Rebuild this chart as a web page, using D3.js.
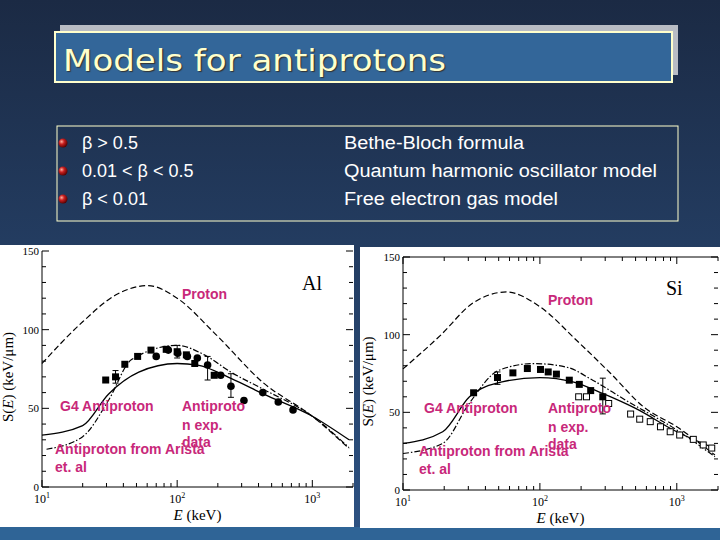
<!DOCTYPE html>
<html><head><meta charset="utf-8">
<script src="https://cdn.jsdelivr.net/npm/d3@7"></script>
<style>body{margin:0;}svg{display:block}</style>
</head><body>
<svg id="s" width="720" height="540"></svg>
<script>
// ---- data ----
const bulletsLeft = ["β > 0.5", "0.01 < β < 0.5", "β < 0.01"];
const bulletsRight = ["Bethe-Bloch formula", "Quantum harmonic oscillator model", "Free electron gas model"];
const xTickLabels = ["10", "10", "10"], xTickExp = ["1","2","3"], xTickVals = [10,100,1000];
const yTickVals = [0,50,100,150];

const alProton = [[10,78.5],[20,105],[35,122],[61,128],[100,120],[188,98],[437,66],[1000,45],[1870,24.4]];
const alG4 = [[10,33],[20,39],[31,59],[52,73],[100,78.5],[142,77.5],[250,69],[437,59],[1000,45],[1870,30]];
const alArista = [[10.8,24],[20,32],[31,55],[46,81],[100,90],[159,84],[250,73],[437,62],[1000,45],[1870,25]];
const alSquares = [[29.6,68],[35,70],[41,78],[51,83],[64,87],[83,87.5],[100,86],[117,84],[135,78.5],[188,71]];
const alCircles = [[70,83],[86,87],[101,85],[119,83],[141,82],[168,77.5],[210,71],[250,64],[312,55],[430,60],[560,54],[720,49]];
const alErr = [[35,66,74],[100,82,90],[168,68,83],[250,57,72]];

const siProton = [[10,78],[19,100],[32,120],[57,127.5],[100,118],[185,96.4],[329,75],[570,53.6],[1000,40.7],[1900,22.5]];
const siG4 = [[10,30],[19.5,37.5],[30.6,60],[53,69.6],[100,72.4],[174,69.6],[290,62],[500,52.5],[1000,37.5],[1900,26.8]];
const siArista = [[10,23.5],[19.5,30],[30.6,56],[50,77],[90,81.4],[158,79],[243,70.7],[420,58],[1000,38.6],[1900,21.4]];
const siSquares = [[32.8,62.6],[49,72.4],[63.5,75.4],[81,78.2],[101,77.6],[115,76],[132,74.6],[164,70.7],[194,68],[235,64],[288,60]];
const siOpen = [[192,60],[219,60],[318,55.7],[460,48.9],[536,45.6],[640,44],[760,40.7],[895,37.5],[1050,35.4],[1320,32.6],[1560,29],[1800,27]];
const siErr = [[49,68,76],[288,49,72]];

const svg = d3.select("#s");
const defs = svg.append("defs");
const g = defs.append("linearGradient").attr("id","bg").attr("x1",0).attr("x2",0).attr("y1",0).attr("y2",1);
g.append("stop").attr("offset","0").attr("stop-color","#1b2a44");
g.append("stop").attr("offset","1").attr("stop-color","#2d5283");
const rg = defs.append("radialGradient").attr("id","ball").attr("cx","0.35").attr("cy","0.35").attr("r","0.7");
rg.append("stop").attr("offset","0").attr("stop-color","#ffb0a0");
rg.append("stop").attr("offset","0.4").attr("stop-color","#cc2020");
rg.append("stop").attr("offset","1").attr("stop-color","#500000");

svg.append("rect").attr("width",720).attr("height",540).attr("fill","url(#bg)");
svg.append("rect").attr("x",0).attr("y",527).attr("width",720).attr("height",13).attr("fill","#2f6496");

// title
svg.append("rect").attr("x",60).attr("y",25).attr("width",618).attr("height",50).attr("fill","#b8bcc4");
svg.append("rect").attr("x",55).attr("y",32).attr("width",617).attr("height",50).attr("fill","#336699").attr("stroke","#ffffcc").attr("stroke-width",2);
svg.append("text").attr("x",63).attr("y",71).text("Models for antiprotons")
  .attr("font-family","DejaVu Sans").attr("font-size",31).attr("fill","#ffffcc")
  .attr("textLength",383).attr("lengthAdjust","spacingAndGlyphs")
  .attr("style","text-shadow:1px 1px 1px #333");

// bullet box
svg.append("rect").attr("x",57).attr("y",126).attr("width",621).attr("height",95).attr("fill","none").attr("stroke","#ffffcc").attr("stroke-width",1);
const rightLen = [180, 313, 214];
bulletsLeft.forEach((t,i)=>{
  const y = 143+i*28;
  svg.append("circle").attr("cx",63).attr("cy",y).attr("r",4.5).attr("fill","url(#ball)");
  svg.append("text").attr("x",82).attr("y",y+6).text(t).attr("font-family","Liberation Sans").attr("font-size",18).attr("fill","#fff");
  svg.append("text").attr("x",344).attr("y",y+6).text(bulletsRight[i]).attr("font-family","Liberation Sans").attr("font-size",18).attr("fill","#fff")
    .attr("textLength",rightLen[i]).attr("lengthAdjust","spacingAndGlyphs");
});

function panel(o){
  const p = svg.append("g");
  p.append("rect").attr("x",o.bx).attr("y",o.by).attr("width",o.bw).attr("height",o.bh).attr("fill","#fff");
  const x = d3.scaleLog().domain([10,2000]).range([o.x0,o.x1]);
  const y = d3.scaleLinear().domain([0,150]).range([o.y0,o.y1]);
  const serif = "Liberation Serif";
  p.append("line").attr("x1",o.x0).attr("x2",o.x1).attr("y1",o.y0).attr("y2",o.y0).attr("stroke","#000");
  p.append("line").attr("x1",o.x0).attr("x2",o.x0).attr("y1",o.y0).attr("y2",o.y1).attr("stroke","#000");
  if(o.top) p.append("line").attr("x1",o.x0).attr("x2",o.x1).attr("y1",o.y1).attr("y2",o.y1).attr("stroke","#000");
  d3.range(0,151,10).forEach(v=>{
    const L = v%50===0?7:4;
    p.append("line").attr("x1",o.x0).attr("x2",o.x0+L).attr("y1",y(v)).attr("y2",y(v)).attr("stroke","#000");
    p.append("line").attr("x1",o.x1).attr("x2",o.x1-L).attr("y1",y(v)).attr("y2",y(v)).attr("stroke","#000");
  });
  yTickVals.forEach(v=>p.append("text").attr("x",o.x0-3).attr("y",y(v)+4).attr("text-anchor","end").text(v)
    .attr("font-family",serif).attr("font-size",11).attr("fill","#000"));
  [10,100,1000].forEach(dec=>{for(let k=1;k<10;k++){const v=dec*k; if(v>2000)continue;
    const L=k===1?7:4;
    p.append("line").attr("x1",x(v)).attr("x2",x(v)).attr("y1",o.y0).attr("y2",o.y0-L).attr("stroke","#000");
    if(o.top) p.append("line").attr("x1",x(v)).attr("x2",x(v)).attr("y1",o.y1).attr("y2",o.y1+L).attr("stroke","#000");
  }});
  xTickVals.forEach((v,i)=>{
    const t=p.append("text").attr("x",x(v)).attr("y",o.y0+16).attr("text-anchor","middle").attr("font-family",serif).attr("font-size",12).attr("fill","#000");
    t.append("tspan").text(xTickLabels[i]);
    t.append("tspan").attr("dy",-5).attr("font-size",8).text(xTickExp[i]);
  });
  const xl = p.append("text").attr("x",(x(100)+x(200))/2).attr("y",o.y0+33).attr("text-anchor","middle").attr("font-family",serif).attr("font-size",15).attr("fill","#000");
  xl.append("tspan").attr("font-style","italic").text("E");
  xl.append("tspan").text("  (keV)");
  const yl = p.append("text").attr("transform",`translate(${o.bx+13},${(y(0)+y(150))/2+8}) rotate(-90)`).attr("text-anchor","middle").attr("font-family",serif).attr("font-size",15).attr("fill","#000");
  yl.append("tspan").text("S(");
  yl.append("tspan").attr("font-style","italic").text("E");
  yl.append("tspan").text(")  (keV/μm)");
  const line = d3.line().x(d=>x(d[0])).y(d=>y(d[1])).curve(d3.curveMonotoneX);
  const cp = p.append("g");
  cp.append("path").attr("d",line(o.proton)).attr("fill","none").attr("stroke","#000").attr("stroke-width",1.2).attr("stroke-dasharray","6,3");
  cp.append("path").attr("d",line(o.g4)).attr("fill","none").attr("stroke","#000").attr("stroke-width",1.3);
  cp.append("path").attr("d",line(o.arista)).attr("fill","none").attr("stroke","#000").attr("stroke-width",1.2).attr("stroke-dasharray","6,2,1.5,2");
  o.err.forEach(e=>{
    cp.append("line").attr("x1",x(e[0])).attr("x2",x(e[0])).attr("y1",y(e[1])).attr("y2",y(e[2])).attr("stroke","#000");
    [e[1],e[2]].forEach(v=>cp.append("line").attr("x1",x(e[0])-3).attr("x2",x(e[0])+3).attr("y1",y(v)).attr("y2",y(v)).attr("stroke","#000"));
  });
  o.squares.forEach(d=>cp.append("rect").attr("x",x(d[0])-3.5).attr("y",y(d[1])-3.5).attr("width",7).attr("height",7).attr("fill","#000"));
  (o.circles||[]).forEach(d=>cp.append("circle").attr("cx",x(d[0])).attr("cy",y(d[1])).attr("r",3.8).attr("fill","#000"));
  (o.open||[]).forEach(d=>cp.append("rect").attr("x",x(d[0])-3).attr("y",y(d[1])-3).attr("width",6).attr("height",6).attr("fill","#fff").attr("stroke","#000"));
  p.append("text").attr("x",o.elx).attr("y",o.ely).text(o.el).attr("font-family",serif).attr("font-size",20).attr("fill","#000");
  const lab=(t,xx,yy)=>p.append("text").attr("x",xx).attr("y",yy).text(t).attr("font-family","Liberation Sans").attr("font-weight","bold").attr("font-size",14).attr("fill","#c8287a");
  lab("Proton",o.bx+o.ax,o.pry);
  lab("G4 Antiproton",o.bx+o.gx,o.gy);
  lab("Antiproto",o.bx+o.ax,o.gy);
  lab("n exp.",o.bx+o.ax,o.gy+19);
  lab("data",o.bx+o.ax,o.gy+36);
  lab("Antiproton from Arista",o.bx+o.arx,o.gy+43);
  lab("et. al",o.bx+o.arx,o.gy+61);
}

panel({bx:0,by:245,bw:354,bh:282,x0:42,x1:353,y0:487,y1:251,top:false,
  proton:alProton,g4:alG4,arista:alArista,squares:alSquares,circles:alCircles,err:alErr,
  el:"Al",elx:302,ely:290,ax:182,pry:299,gx:60,gy:411,arx:55});
panel({bx:360,by:247,bw:360,bh:281,x0:403,x1:718,y0:490,y1:257,top:true,
  proton:siProton,g4:siG4,arista:siArista,squares:siSquares,open:siOpen,err:siErr,
  el:"Si",elx:666,ely:295,ax:188,pry:305,gx:64,gy:413,arx:59});
</script>
</body></html>
